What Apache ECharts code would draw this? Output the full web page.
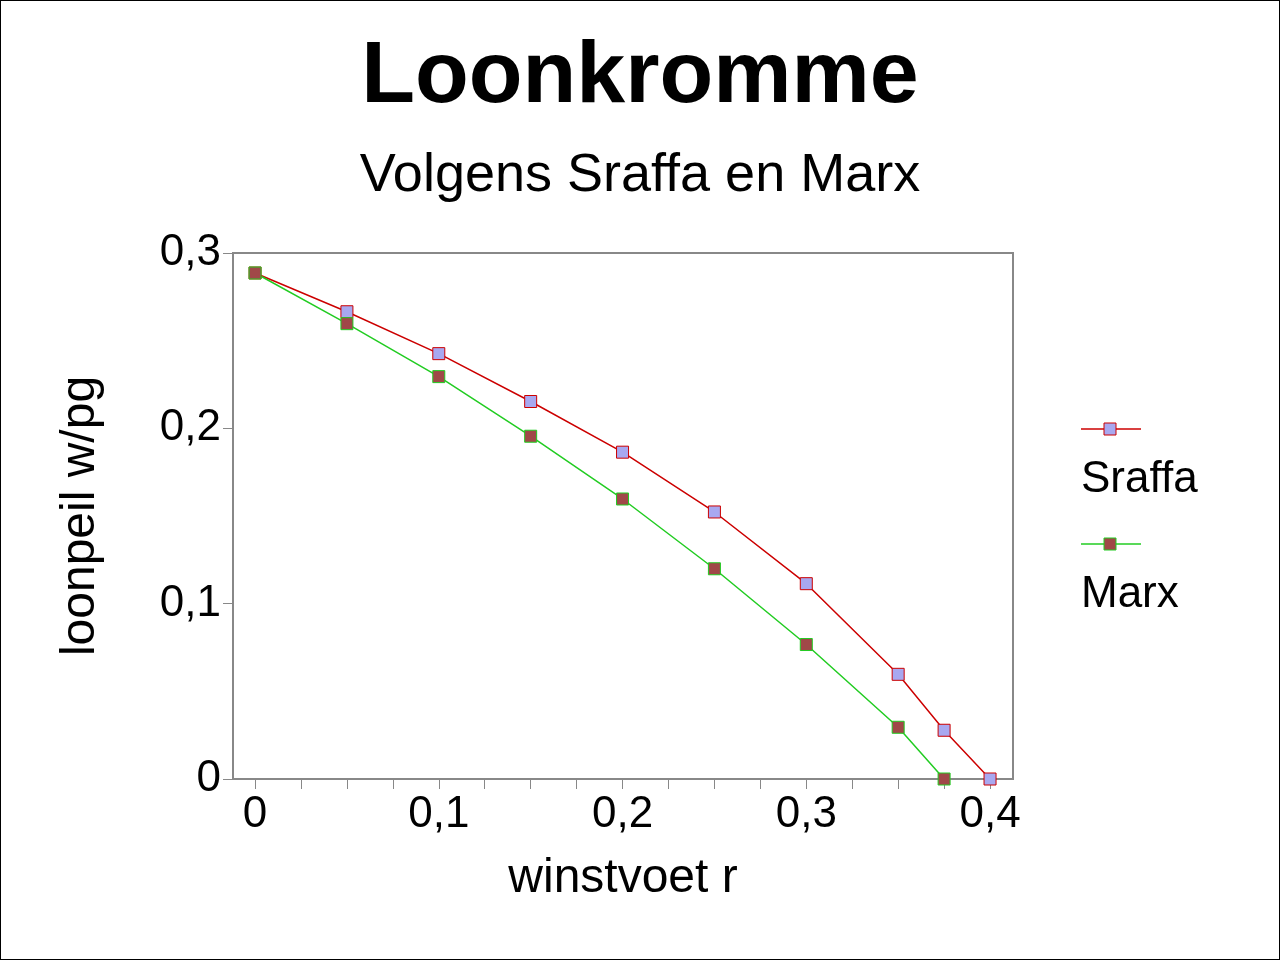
<!DOCTYPE html>
<html><head><meta charset="utf-8">
<script src="https://cdn.jsdelivr.net/npm/echarts@6/dist/echarts.min.js"></script>
<style>html,body{margin:0;padding:0;background:#fff}#c{width:1280px;height:960px;box-sizing:border-box;border:1px solid #000}</style>
</head><body><div id="c"></div>
<script>
const rValues = [0, 0.05, 0.1, 0.15, 0.2, 0.25, 0.3, 0.35, 0.375, 0.4];
const sraffa = [0.2886, 0.2665, 0.2426, 0.2153, 0.1864, 0.1523, 0.1114, 0.0597, 0.0278, 0];
const marxR = [0, 0.05, 0.1, 0.15, 0.2, 0.25, 0.3, 0.35, 0.375];
const marx = [0.2886, 0.2597, 0.2295, 0.1955, 0.1597, 0.1199, 0.0767, 0.0295, 0];
const xLabels = [0, 0.1, 0.2, 0.3, 0.4];
const xTicks = [0, 0.025, 0.05, 0.075, 0.1, 0.125, 0.15, 0.175, 0.2, 0.225, 0.25, 0.275, 0.3, 0.325, 0.35, 0.375, 0.4];
const yLabels = [0, 0.1, 0.2, 0.3];
const fmt = v => String(Math.round(v*10)/10).replace('.', ',');
const F = 'Liberation Sans, Arial, sans-serif';
const chart = echarts.init(document.getElementById('c'));
chart.setOption({
  animation: false,
  title: [
    {text: 'Loonkromme', left: 'center', top: 28, textStyle: {fontFamily: F, fontSize: 88, fontWeight: 'bold', color: '#000'}},
    {text: 'Volgens Sraffa en Marx', left: 'center', top: 143, textStyle: {fontFamily: F, fontSize: 54, fontWeight: 'normal', color: '#000'}}
  ],
  grid: {left: 232, right: 266, top: 252, bottom: 180, show: true, borderColor: '#888', borderWidth: 2},
  xAxis: {
    type: 'value', min: -0.012, max: 0.4125,
    name: 'winstvoet r', nameLocation: 'middle', nameGap: 76,
    nameTextStyle: {fontFamily: F, fontSize: 48, color: '#000'},
    axisLine: {show: true, onZero: false, lineStyle: {color: '#888', width: 2}},
    axisTick: {show: true, customValues: xTicks, length: 10, lineStyle: {color: '#888', width: 1}},
    axisLabel: {customValues: xLabels, formatter: fmt, fontFamily: F, fontSize: 44, color: '#000', margin: 14},
    splitLine: {show: false}
  },
  yAxis: {
    type: 'value', min: 0, max: 0.3, interval: 0.1,
    name: 'loonpeil w/pg', nameLocation: 'middle', nameGap: 128,
    nameTextStyle: {fontFamily: F, fontSize: 48, color: '#000'},
    axisLine: {show: true, onZero: false, lineStyle: {color: '#888', width: 2}},
    axisTick: {show: true, length: 10, lineStyle: {color: '#888'}},
    axisLabel: {formatter: fmt, fontFamily: F, fontSize: 44, color: '#000', margin: 12},
    splitLine: {show: false}
  },
  series: [
    {name: 'Sraffa', type: 'line', data: rValues.map((r, i) => [r, sraffa[i]]),
     symbol: 'rect', symbolSize: 12, lineStyle: {color: '#cc0000', width: 1.5},
     itemStyle: {color: '#a8a8f0', borderColor: '#cc0000', borderWidth: 1}},
    {name: 'Marx', type: 'line', data: marxR.map((r, i) => [r, marx[i]]),
     symbol: 'rect', symbolSize: 12, lineStyle: {color: '#22cc22', width: 1.5},
     itemStyle: {color: '#a04848', borderColor: '#22cc22', borderWidth: 1}}
  ],
  graphic: [
    {type: 'line', shape: {x1: 1080, y1: 428, x2: 1140, y2: 428}, style: {stroke: '#cc0000', lineWidth: 1.5}},
    {type: 'rect', shape: {x: 1103, y: 422, width: 12, height: 12}, style: {fill: '#a8a8f0', stroke: '#cc0000'}},
    {type: 'text', x: 1080, y: 457, style: {text: 'Sraffa', font: '44px ' + F, fill: '#000'}},
    {type: 'line', shape: {x1: 1080, y1: 543, x2: 1140, y2: 543}, style: {stroke: '#22cc22', lineWidth: 1.5}},
    {type: 'rect', shape: {x: 1103, y: 537, width: 12, height: 12}, style: {fill: '#a04848', stroke: '#22cc22'}},
    {type: 'text', x: 1080, y: 572, style: {text: 'Marx', font: '44px ' + F, fill: '#000'}}
  ]
});
</script></body></html>
